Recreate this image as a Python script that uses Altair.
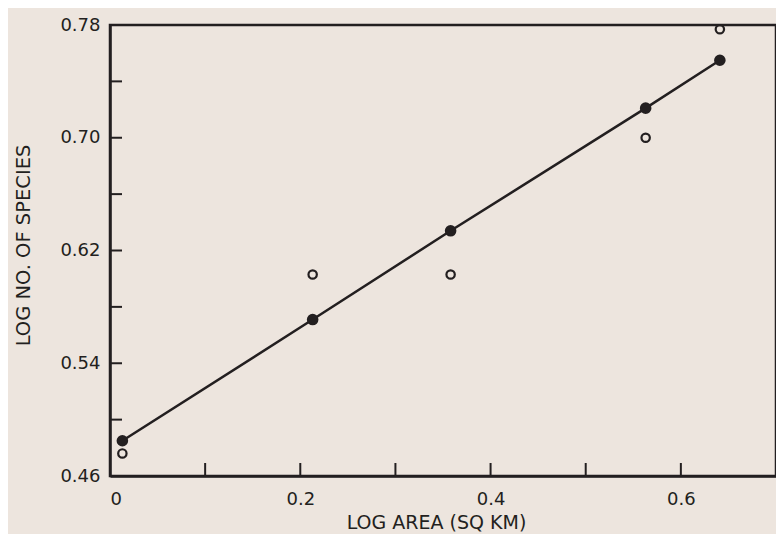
import altair as alt
import pandas as pd

# Data
log_area = [0.013, 0.213, 0.358, 0.563, 0.641]
fitted_species = [0.485, 0.571, 0.634, 0.721, 0.755]
observed_species = [0.476, 0.603, 0.603, 0.700, 0.777]

x_tick_values = [0.1, 0.2, 0.3, 0.4, 0.5, 0.6]
x_label_values = [0, 0.2, 0.4, 0.6]
y_tick_values = [0.50, 0.54, 0.58, 0.62, 0.66, 0.70, 0.74]
y_label_values = [0.46, 0.54, 0.62, 0.70, 0.78]

W, H = 666, 451
INK = "#231f20"
BG = "#ede5de"
FONT = "DejaVu Sans"

df = pd.DataFrame({"x": log_area, "fit": fitted_species, "obs": observed_species})
xt = pd.DataFrame({"x": x_tick_values})
yt = pd.DataFrame({"fit": y_tick_values})

xscale = alt.Scale(domain=[0, 0.7], nice=False, zero=False)
yscale = alt.Scale(domain=[0.46, 0.78], nice=False, zero=False)

xaxis = alt.Axis(
    values=x_label_values, ticks=False, grid=False,
    labelExpr="datum.value == 0 ? '0' : format(datum.value, '.1f')",
    labelPadding=14, labelFontSize=18, labelFont=FONT, labelColor=INK,
    domainColor=INK, domainWidth=2.5,
    title="LOG AREA (SQ KM)", titleFont=FONT, titleFontSize=19, titleFontWeight="normal",
    titleColor=INK, titleX=326, titleY=46, titleBaseline="middle", titleAnchor="middle",
)
yaxis = alt.Axis(
    values=y_label_values, ticks=False, grid=False, format=".2f",
    labelPadding=10, labelFontSize=18, labelFont=FONT, labelColor=INK,
    domainColor=INK, domainWidth=2.5,
    title="LOG NO. OF SPECIES", titleFont=FONT, titleFontSize=19.5, titleFontWeight="normal",
    titleColor=INK, titleX=-87, titleY=220, titleAngle=270, titleBaseline="middle",
    titleAlign="center",
)

base = alt.Chart(df)

line = base.mark_line(color=INK, strokeWidth=2.5).encode(
    x=alt.X("x:Q", scale=xscale, axis=xaxis),
    y=alt.Y("fit:Q", scale=yscale, axis=yaxis),
)
filled = base.mark_point(shape="circle", filled=True, color=INK, size=135, opacity=1).encode(
    x=alt.X("x:Q", scale=xscale, axis=xaxis),
    y=alt.Y("fit:Q", scale=yscale, axis=yaxis),
)
hollow = base.mark_point(shape="circle", filled=False, color=INK, size=70, strokeWidth=2.2, opacity=1).encode(
    x=alt.X("x:Q", scale=xscale, axis=xaxis),
    y=alt.Y("obs:Q", scale=yscale, axis=yaxis),
)
xticks = alt.Chart(xt).mark_rule(color=INK, strokeWidth=2).encode(
    x=alt.X("x:Q", scale=xscale, axis=xaxis),
    y=alt.value(H),
    y2=alt.value(H - 13),
)
yticks = alt.Chart(yt).mark_rule(color=INK, strokeWidth=2).encode(
    y=alt.Y("fit:Q", scale=yscale, axis=yaxis),
    x=alt.value(0),
    x2=alt.value(12),
)

chart = alt.layer(line, xticks, yticks, hollow, filled).properties(
    width=W, height=H,
    autosize=alt.AutoSizeParams(type="none"),
    padding={"left": 102, "top": 17, "right": 0, "bottom": 58},
    background=BG,
).configure_view(
    stroke=INK, strokeWidth=2.5, fill=BG,
)

chart.save("out.html", embed_options={"renderer": "svg", "actions": False})
